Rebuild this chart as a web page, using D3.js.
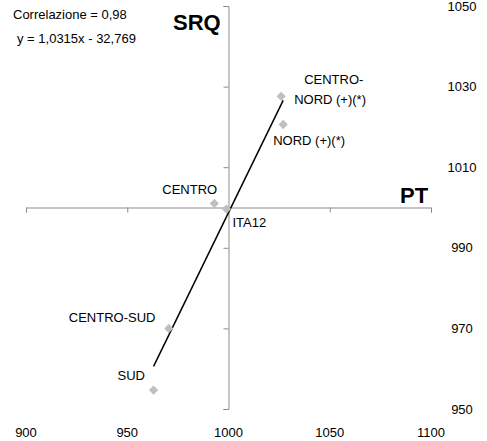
<!DOCTYPE html>
<html>
<head>
<meta charset="utf-8">
<title>SRQ vs PT</title>
<script src="https://d3js.org/d3.v7.min.js"></script>
<style>
  body { margin: 0; background: #fff; }
  text { font-family: "Liberation Sans", Arial, sans-serif; fill: #000; }
</style>
</head>
<body>
<svg width="487" height="441"></svg>
<script>
// data
var regions = ["CENTRO-NORD (+)(*)", "NORD (+)(*)", "CENTRO", "ITA12", "CENTRO-SUD", "SUD"];
var ptValues = [1026, 1027, 993, 999, 970.5, 963];
var srqValues = [1027.6, 1020.6, 1001, 999.6, 970, 954.7];
var xTicks = [900, 950, 1000, 1050, 1100];
var yTicks = [950, 970, 990, 1010, 1030, 1050];
var slope = 1.0315, intercept = -32.769;
var corrText = "Correlazione = 0,98";
var eqText = "y = 1,0315x - 32,769";

var svg = d3.select("svg");

var x = d3.scaleLinear().domain([900, 1100]).range([26, 431]);
var y = d3.scaleLinear().domain([950, 1050]).range([409, 6]);

// horizontal axis crossing at 1000
svg.append("g")
    .attr("transform", "translate(0," + y(1000) + ")")
    .call(d3.axisBottom(x).tickValues(xTicks).tickSize(5).tickSizeOuter(5).tickFormat(""))
    .call(function(g) {
      g.select(".domain").attr("stroke", "#8c8c8c");
      g.selectAll(".tick line").attr("stroke", "#8c8c8c");
    });

// vertical axis crossing at 1000
svg.append("g")
    .attr("transform", "translate(" + x(1000) + ",0)")
    .call(d3.axisLeft(y).tickValues(yTicks).tickSize(5).tickSizeOuter(5).tickFormat(""))
    .call(function(g) {
      g.select(".domain").attr("stroke", "#8c8c8c");
      g.selectAll(".tick line").attr("stroke", "#8c8c8c");
    });

// tick labels, placed low / high like the original
svg.append("g").selectAll("text")
    .data(xTicks)
    .enter().append("text")
      .attr("x", function(d) { return x(d); })
      .attr("y", 437)
      .attr("text-anchor", "middle")
      .attr("font-size", 13)
      .text(function(d) { return d; });

svg.append("g").selectAll("text")
    .data(yTicks)
    .enter().append("text")
      .attr("x", 462)
      .attr("y", function(d) { return y(d) + 4.5; })
      .attr("text-anchor", "middle")
      .attr("font-size", 13)
      .text(function(d) { return d; });

// trend line over the data range
var xr = d3.extent(ptValues);
svg.append("line")
    .attr("x1", x(xr[0])).attr("y1", y(slope * xr[0] + intercept))
    .attr("x2", x(xr[1])).attr("y2", y(slope * xr[1] + intercept))
    .attr("stroke", "#000")
    .attr("stroke-width", 1.5);

// markers
var pts = regions.map(function(r, i) { return { name: r, pt: ptValues[i], srq: srqValues[i] }; });
svg.append("g").selectAll("path")
    .data(pts)
    .enter().append("path")
      .attr("transform", function(d) { return "translate(" + x(d.pt) + "," + y(d.srq) + ")"; })
      .attr("d", d3.symbol().type(d3.symbolDiamond2).size(55))
      .attr("fill", "#bfbfbf");

// point labels
var labelPos = {
  "CENTRO-NORD (+)(*)": { dx: 13, dy: -12, lines: ["CENTRO-", "NORD (+)(*)"] },
  "NORD (+)(*)": { dx: -10, dy: 21, lines: ["NORD (+)(*)"] },
  "CENTRO": { dx: -52, dy: -9, lines: ["CENTRO"] },
  "ITA12": { dx: 6, dy: 18, lines: ["ITA12"] },
  "CENTRO-SUD": { dx: -100, dy: -6, lines: ["CENTRO-SUD"] },
  "SUD": { dx: -36, dy: -10, lines: ["SUD"] }
};
pts.forEach(function(d) {
  var p = labelPos[d.name];
  var t = svg.append("text")
      .attr("x", x(d.pt) + p.dx)
      .attr("y", y(d.srq) + p.dy)
      .attr("font-size", 13);
  p.lines.forEach(function(l, i) {
    t.append("tspan")
      .attr("x", x(d.pt) + p.dx + (i == 0 && p.lines.length > 1 ? 10 : 0))
      .attr("dy", i == 0 ? 0 : 20)
      .text(l);
  });
});

// axis titles
svg.append("text")
    .attr("x", 173).attr("y", 30)
    .attr("font-size", 22).attr("font-weight", "bold")
    .text("SRQ");
svg.append("text")
    .attr("x", 400).attr("y", 203)
    .attr("font-size", 22).attr("font-weight", "bold")
    .text("PT");

// correlation and equation
svg.append("text")
    .attr("x", 13).attr("y", 19)
    .attr("font-size", 13)
    .text(corrText);
svg.append("text")
    .attr("x", 17).attr("y", 43)
    .attr("font-size", 13)
    .text(eqText);
</script>
</body>
</html>
